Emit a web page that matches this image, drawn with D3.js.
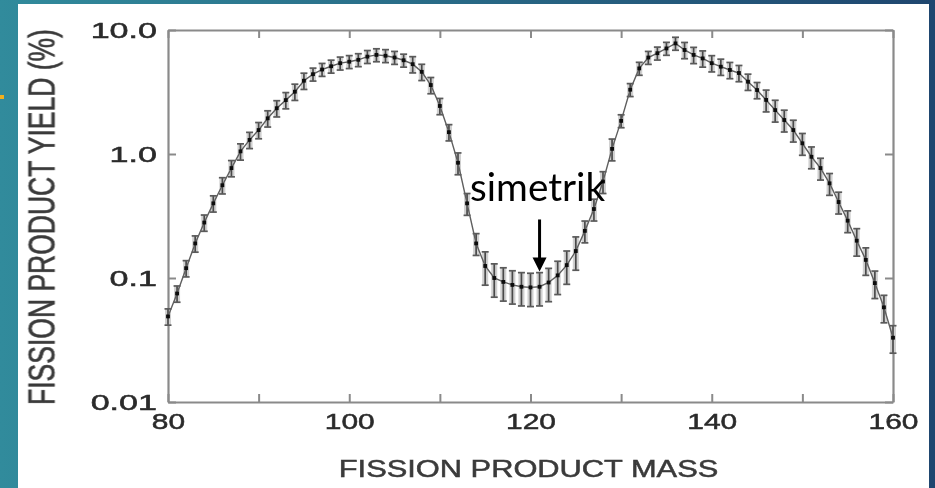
<!DOCTYPE html>
<html>
<head>
<meta charset="utf-8">
<script src="https://cdn.jsdelivr.net/npm/d3@7"></script>
<style>
  html, body { margin: 0; padding: 0; background: #2f7f95; }
  svg { display: block; }
</style>
</head>
<body>
<svg id="chart" width="935" height="488"></svg>
<script>
// fission product mass numbers (x categories)
const mass = [
  80, 81, 82, 83, 84, 85, 86, 87, 88, 89,
  90, 91, 92, 93, 94, 95, 96, 97, 98, 99,
  100, 101, 102, 103, 104, 105, 106, 107, 108, 109,
  110, 111, 112, 113, 114, 115, 116, 117, 118, 119,
  120, 121, 122, 123, 124, 125, 126, 127, 128, 129,
  130, 131, 132, 133, 134, 135, 136, 137, 138, 139,
  140, 141, 142, 143, 144, 145, 146, 147, 148, 149,
  150, 151, 152, 153, 154, 155, 156, 157, 158, 159, 160
]
// yield in %
const yieldPct = [
  0.049, 0.075, 0.12, 0.19, 0.28, 0.40, 0.56, 0.77, 1.05, 1.30,
  1.56, 1.94, 2.34, 2.72, 3.18, 3.9, 4.4, 4.8, 5.1, 5.4,
  5.55, 5.75, 6.1, 6.3, 6.2, 6.0, 5.7, 5.3, 4.6, 3.6,
  2.44, 1.5, 0.85, 0.40, 0.19, 0.125, 0.10, 0.093, 0.088, 0.085,
  0.084, 0.085, 0.092, 0.105, 0.127, 0.165, 0.24, 0.36, 0.6, 1.1,
  1.85, 3.3, 4.9, 6.0, 6.5, 7.1, 7.8, 6.9, 6.3, 5.9,
  5.4, 5.06, 4.76, 4.5, 3.83, 3.28, 2.73, 2.26, 1.88, 1.56,
  1.22, 0.95, 0.77, 0.58, 0.41, 0.29, 0.20, 0.14, 0.091, 0.058, 0.033
]
// relative uncertainty (half range, %) of each point
const errPct = [
  15, 15, 15, 15, 15, 15, 15, 15, 15, 15,
  15, 15, 15, 15, 15, 15, 12, 12, 12, 12,
  12, 12, 12, 12, 12, 12, 12, 15, 15, 15,
  15, 15, 20, 20, 20, 30, 30, 30, 30, 30,
  30, 30, 30, 30, 30, 30, 20, 20, 20, 20,
  12, 12, 12, 12, 12, 12, 12, 15, 15, 15,
  15, 15, 15, 15, 15, 15, 20, 20, 20, 20,
  20, 20, 20, 20, 20, 20, 25, 25, 25, 25, 25
]

const xTicks = [80, 90, 100, 110, 120, 130, 140, 150, 160]
const xLabels = [80, 100, 120, 140, 160]
const yTicks = [0.01, 0.1, 1, 10]
const yLabels = ['0.01', '0.1', '1.0', '10.0']

const xTitle = 'FISSION PRODUCT MASS'
const yTitle = 'FISSION PRODUCT YIELD (%)'
const note = 'simetrik'
const noteMass = 121
const noteYield = 0.115

const width = 935
const height = 488
const margin = {top: 30, right: 42, bottom: 86, left: 168}
const stretch = 1.36   // the scanned figure is wider than tall

let data = mass.map((m, i) => ({m: m, v: yieldPct[i], e: errPct[i] / 100}))

const svg = d3.select('#chart')

// slide background + white picture area
const defs = svg.append('defs')
const grad = defs.append('linearGradient').attr('id', 'bg').attr('x1', 0).attr('x2', 1)
grad.append('stop').attr('offset', 0).attr('stop-color', '#318b9c')
grad.append('stop').attr('offset', 1).attr('stop-color', '#1f466f')
defs.append('filter').attr('id', 'soft')
  .append('feGaussianBlur').attr('stdDeviation', 0.6)

svg.append('rect').attr('width', width).attr('height', height).attr('fill', 'url(#bg)')
svg.append('rect').attr('x', 0).attr('y', 95).attr('width', 4).attr('height', 4).attr('fill', '#f2b01e')
svg.append('rect').attr('x', 18).attr('y', 4).attr('width', 911).attr('height', 484).attr('fill', '#fff')

let x = d3.scaleLinear().domain([80, 160]).range([margin.left, width - margin.right])
let y = d3.scaleLog().domain([0.01, 10]).range([height - margin.bottom, margin.top])

const g = svg.append('g').attr('filter', 'url(#soft)')

const textStyle = (sel, size) => sel
  .attr('fill', '#2a2a2a')
  .attr('stroke', '#2a2a2a')
  .attr('stroke-width', 0.5)
  .style('font', size + 'px "Liberation Sans", Arial, sans-serif')

// axes (ticks point inward, labels stretched like the scan)
const styleAxis = sel => {
  sel.select('.domain').attr('stroke', '#8a8a8a').attr('stroke-width', 2.2)
  sel.selectAll('.tick line').attr('stroke', '#8a8a8a').attr('stroke-width', 2)
  sel.selectAll('.tick text').call(textStyle, 22)
}

g.append('g')
  .attr('transform', `translate(0,${y(0.01)})`)
  .call(d3.axisBottom(x).tickValues(xTicks).tickSizeInner(-8).tickSizeOuter(0).tickPadding(11)
    .tickFormat(d => xLabels.includes(d) ? d : ''))
  .call(styleAxis)
  .call(a => a.selectAll('.tick text')
    .attr('transform', `scale(${stretch},1)`)
    .attr('x', 0))

g.append('g')
  .attr('transform', `translate(0,${y(10)})`)
  .call(d3.axisTop(x).tickValues(xTicks).tickSizeInner(-8).tickSizeOuter(0).tickFormat(''))
  .call(styleAxis)

g.append('g')
  .attr('transform', `translate(${x(80)},0)`)
  .call(d3.axisLeft(y).tickValues(yTicks).tickSizeInner(-8).tickSizeOuter(0)
    .tickFormat((d, i) => yLabels[i]))
  .call(styleAxis)
  .call(a => a.selectAll('.tick text')
    .attr('transform', 'scale(1.55,1)')
    .attr('x', -11 / 1.55))

g.append('g')
  .attr('transform', `translate(${x(160)},0)`)
  .call(d3.axisRight(y).tickValues(yTicks).tickSizeInner(-8).tickSizeOuter(0).tickFormat(''))
  .call(styleAxis)

// axis titles
g.append('text')
  .attr('transform', `translate(${(x(80) + x(160)) / 2 - 2},477) scale(1.34,1)`)
  .attr('text-anchor', 'middle')
  .call(textStyle, 23)
  .attr('fill', '#3a3a3a').attr('stroke', '#3a3a3a')
  .text(xTitle)

g.append('text')
  .attr('transform', `translate(42,${(y(10) + y(0.01)) / 2 + 1}) scale(1.36,1) rotate(-90)`)
  .attr('text-anchor', 'middle')
  .attr('dy', '0.36em')
  .call(textStyle, 26.5)
  .attr('fill', '#3a3a3a').attr('stroke', '#3a3a3a')
  .text(yTitle)

// error bars
const bars = g.append('g').selectAll('g').data(data).join('g')
bars.append('rect')
  .attr('x', d => x(d.m) - 3)
  .attr('y', d => y(d.v * (1 + d.e)))
  .attr('width', 6)
  .attr('height', d => y(d.v * (1 - d.e)) - y(d.v * (1 + d.e)))
  .attr('fill', '#d0d0d0')
bars.append('line')
  .attr('x1', d => x(d.m)).attr('x2', d => x(d.m))
  .attr('y1', d => y(d.v * (1 + d.e))).attr('y2', d => y(d.v * (1 - d.e)))
  .attr('stroke', '#4a4a4a').attr('stroke-width', 1.7)
bars.selectAll('.cap')
  .data(d => [d.v * (1 + d.e), d.v * (1 - d.e)].map(v => ({m: d.m, v: v})))
  .join('line')
  .attr('class', 'cap')
  .attr('x1', d => x(d.m) - 3.5).attr('x2', d => x(d.m) + 3.5)
  .attr('y1', d => y(d.v)).attr('y2', d => y(d.v))
  .attr('stroke', '#5a5a5a').attr('stroke-width', 1.7)

// connecting line + points
g.append('path')
  .datum(data)
  .attr('fill', 'none')
  .attr('stroke', '#5f5f5f')
  .attr('stroke-width', 1.4)
  .attr('d', d3.line().x(d => x(d.m)).y(d => y(d.v)))

g.append('g').selectAll('rect').data(data).join('rect')
  .attr('x', d => x(d.m) - 1.9)
  .attr('y', d => y(d.v) - 1.9)
  .attr('width', 3.8)
  .attr('height', 3.8)
  .attr('fill', '#0a0a0a')

// annotation overlay
const ax = x(noteMass)
const ay = y(noteYield)
const ann = svg.append('g')
ann.append('text')
  .attr('x', ax - 2)
  .attr('y', ay - 69)
  .attr('text-anchor', 'middle')
  .attr('fill', '#000')
  .style('font', '39px Lato, "Open Sans", sans-serif')
  .attr('textLength', 135)
  .attr('lengthAdjust', 'spacingAndGlyphs')
  .text(note)
ann.append('line')
  .attr('x1', ax).attr('x2', ax)
  .attr('y1', ay - 51).attr('y2', ay - 12)
  .attr('stroke', '#000').attr('stroke-width', 3)
ann.append('path')
  .attr('d', `M${ax - 7},${ay - 13} L${ax + 7},${ay - 13} L${ax},${ay + 1} Z`)
  .attr('fill', '#000')
</script>
</body>
</html>
